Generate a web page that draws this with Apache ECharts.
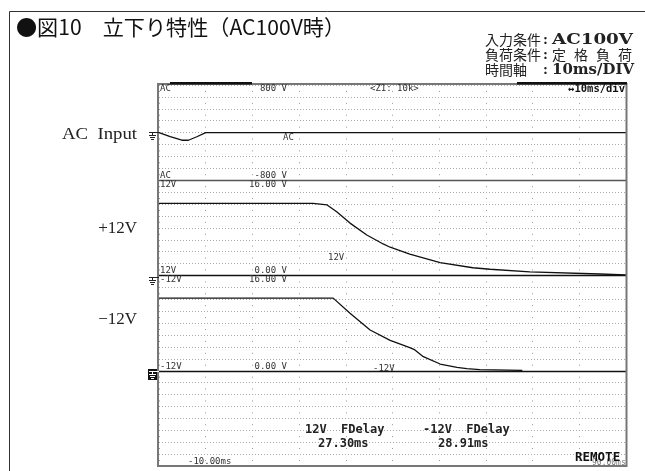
<!DOCTYPE html>
<html><head><meta charset="utf-8">
<script src="https://cdn.jsdelivr.net/npm/echarts@6/dist/echarts.min.js"></script>
<style>html,body{margin:0;padding:0;background:#fff}#c{width:645px;height:471px}</style>
</head><body><div id="c"></div>
<script>
// ---- data ----
const timeRange = [-10, 90];          // ms, 10 ms/div
const acTime  = [-10, -7.6, -5.1, -3.7, -1.9, 0, 90];
const acVolt  = [0, -69, -128, -128, -69, 0, 0];
const p12Time = [-10, 23.0, 26.0, 28.05, 30.9, 34.5, 38.0, 39.5, 43.7, 50.2, 57.2, 60.9, 69.4, 84.4, 90];
const p12Volt = [12.1, 12.1, 11.85, 10.7, 8.8, 6.8, 5.3, 4.75, 3.6, 2.15, 1.3, 1.05, 0.6, 0.25, 0.1];
const n12Time = [-10, 27.3, 30.9, 35.2, 39.5, 43.7, 44.8, 46.6, 50.2, 53.8, 55.9, 58.7, 67.8];
const n12Volt = [12.2, 12.2, 9.65, 6.85, 5.1, 3.87, 3.5, 2.36, 1.13, 0.57, 0.35, 0.18, 0.05];
const yRanges = [[-800, 800, 200], [0, 16, 2], [0, 16, 2], [0, 8, 1]];
const channelNames = ['AC  Input', '+12V', '−12V'];
const delayTexts = [['12V  FDelay', '27.30ms'], ['-12V  FDelay', '28.91ms']];
const conditions = [['入力条件', 'AC100V'], ['負荷条件', '定格負荷'], ['時間軸', '10ms/DIV']];
const titleText = '●図10　立下り特性（AC100V時）';

// ---- layout ----
const GL = 159, GW = 467, GT = 85, PH = 95.25;
const chart = echarts.init(document.getElementById('c'), null, {renderer: 'canvas'});
const mono = '"DejaVu Sans Mono", monospace';
const jp = '"Noto Sans CJK JP", sans-serif';
const serif = '"Liberation Serif", "Noto Sans CJK JP", serif';
const dserif = '"DejaVu Serif", "Liberation Serif", serif';

const grids = [], xAxes = [], yAxes = [];
yRanges.forEach((r, i) => {
  grids.push({left: GL, top: GT + i * PH, width: GW, height: PH});
  xAxes.push({type: 'value', gridIndex: i, min: timeRange[0], max: timeRange[1], interval: 10,
    axisLabel: {show: false}, axisTick: {show: false},
    axisLine: {show: i < 3, onZero: false, lineStyle: {color: i === 0 ? '#555' : '#111', width: 1.3}},
    splitLine: {show: true, lineStyle: {color: '#999', width: 1, type: [1, 10.9], dashOffset: 6}}});
  yAxes.push({type: 'value', gridIndex: i, min: r[0], max: r[1], interval: r[2],
    axisLabel: {show: false}, axisTick: {show: false}, axisLine: {show: false},
    splitLine: {show: true, lineStyle: {color: '#aaa', width: 1, type: [1, 2]}}});
});

function trace(idx, ts, vs) {
  return {type: 'line', xAxisIndex: idx, yAxisIndex: idx, data: ts.map((t, k) => [t, vs[k]]),
    showSymbol: false, symbol: 'none', smooth: false, lineStyle: {color: '#111', width: 1.3}, z: 5};
}

const G = [];
function T(x, y, s, font, opt, sx) {
  opt = opt || {};
  const el = {type: 'text', x: x, y: y, z: 50, style: Object.assign({text: s, font: font, fill: '#333', textAlign: 'left', textVerticalAlign: 'middle'}, opt)};
  if (sx) el.scaleX = sx;
  G.push(el);
}
const mctx = document.createElement('canvas').getContext('2d');
function measure(s, font) { mctx.font = font; return mctx.measureText(s).width; }
function fit(x, y, s, font, w, opt) { T(x, y, s, font, opt, w / measure(s, font)); }
function spaced(x, y, s, font, w, opt) {
  const chars = Array.from(s);
  const ws = chars.map(c => measure(c, font));
  const tot = ws.reduce((a, b) => a + b, 0);
  const gap = chars.length > 1 ? (w - tot) / (chars.length - 1) : 0;
  let cx = x;
  chars.forEach((c, k) => { T(cx, y, c, font, opt); cx += ws[k] + gap; });
}
// outer frame
G.push({type: 'polyline', z: 1, shape: {points: [[9.5, 471], [9.5, 11.5], [645, 11.5]]}, style: {stroke: '#333', lineWidth: 1, fill: null}});
// title
fit(16, 27, titleText, '21px ' + jp, 329, {fill: '#111'});
// conditions
const cf = {fill: '#222'};
conditions.forEach((c, k) => {
  const y = 40 + k * 15;
  T(485, y, c[0], '14px ' + jp, cf);
  T(543, y, ':', 'bold 15px ' + serif, cf);
});
fit(552, 40, conditions[0][1], 'bold 15px ' + dserif, 81, cf);
spaced(552, 55, conditions[1][1], '14px ' + jp, 80, cf);
fit(552, 70, conditions[2][1], 'bold 15px ' + dserif, 82, cf);
// channel names
const nf = {fill: '#222'};
fit(62, 135, channelNames[0], '17px ' + serif, 75, nf);
T(137, 229, channelNames[1], '17px ' + serif, Object.assign({textAlign: 'right'}, nf));
T(137, 320, channelNames[2], '17px ' + serif, Object.assign({textAlign: 'right'}, nf));
// scope border & bars
G.push({type: 'rect', z: 40, shape: {x: 158, y: 84, width: 468.5, height: 382}, style: {stroke: '#777', lineWidth: 2, fill: null}});
G.push({type: 'rect', z: 41, shape: {x: 170, y: 82, width: 82, height: 2.5}, style: {fill: '#111'}});
G.push({type: 'rect', z: 41, shape: {x: 517, y: 82, width: 110, height: 2.5}, style: {fill: '#111'}});
// ground symbols
function ground(y, color) {
  const L = (x1, y1, x2, y2) => G.push({type: 'line', z: 45, shape: {x1, y1, x2, y2}, style: {stroke: color, lineWidth: 1}});
  L(149, y + 0.5, 159, y + 0.5); L(152.5, y + 0.5, 152.5, y + 3);
  L(149, y + 3.5, 156, y + 3.5); L(150, y + 5.5, 155, y + 5.5); L(151, y + 7.5, 154, y + 7.5);
}
ground(132, '#222');
ground(277, '#222');
G.push({type: 'rect', z: 44, shape: {x: 148, y: 369, width: 9, height: 11}, style: {fill: '#111'}});
ground(371, '#fff');
// scope labels
const s9 = '9px ' + mono;
T(160, 89, 'AC', s9); T(287, 89, '800 V', s9, {textAlign: 'right'}); T(370, 89, '<Z1: 10k>', s9);
T(625, 89, '↔10ms/div', 'bold 10.5px ' + mono, {textAlign: 'right', fill: '#111'});
T(160, 176, 'AC', s9); T(287, 176, '-800 V', s9, {textAlign: 'right'});
T(160, 184.5, '12V', s9); T(287, 184.5, '16.00 V', s9, {textAlign: 'right'});
T(160, 271, '12V', s9); T(287, 271, '0.00 V', s9, {textAlign: 'right'});
T(160, 280, '-12V', s9); T(287, 280, '16.00 V', s9, {textAlign: 'right'});
T(160, 366.5, '-12V', s9); T(287, 366.5, '0.00 V', s9, {textAlign: 'right'});
T(283, 138, 'AC', s9); T(328, 258, '12V', s9); T(373, 369, '-12V', s9);
const b12 = 'bold 12px ' + mono;
T(305, 430, delayTexts[0][0], b12, {fill: '#222'}); T(318, 444, delayTexts[0][1], b12, {fill: '#222'});
T(423, 430, delayTexts[1][0], b12, {fill: '#222'}); T(438, 444, delayTexts[1][1], b12, {fill: '#222'});
T(188, 462, '-10.00ms', s9);
T(592, 463, '90.00ms', '8px ' + mono, {fill: '#777'});
T(575, 458, 'REMOTE', 'bold 12.5px ' + mono, {fill: '#111'});

chart.setOption({
  animation: false,
  backgroundColor: '#fff',
  grid: grids, xAxis: xAxes, yAxis: yAxes,
  series: [trace(0, acTime, acVolt), trace(1, p12Time, p12Volt), trace(2, n12Time, n12Volt)],
  graphic: G
});
</script></body></html>
